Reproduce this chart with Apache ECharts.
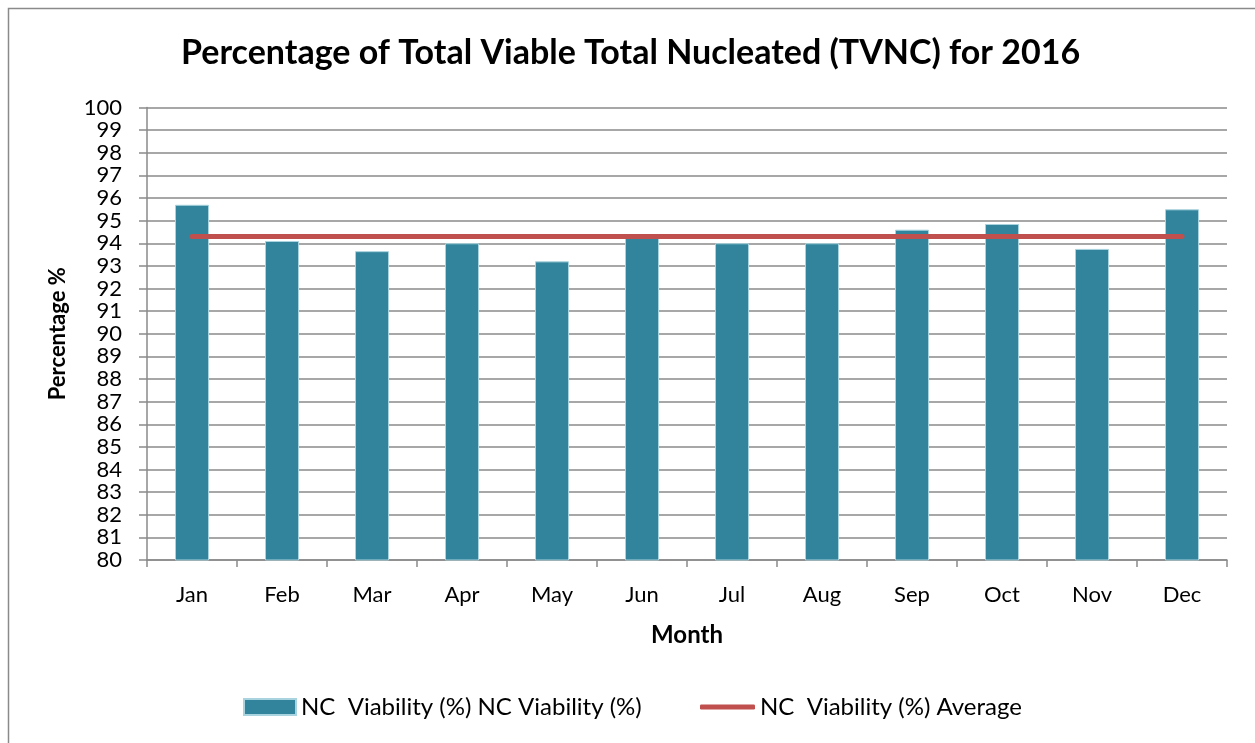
<!DOCTYPE html>
<html>
<head>
<meta charset="utf-8">
<script src="https://cdn.jsdelivr.net/npm/echarts@6/dist/echarts.min.js"></script>
<style>html,body{margin:0;padding:0;background:#fff}#c{width:1255px;height:743px}</style>
</head>
<body>
<div id="c"></div>
<script>
const months = ['Jan','Feb','Mar','Apr','May','Jun','Jul','Aug','Sep','Oct','Nov','Dec'];
const viability = [95.7, 94.1, 93.65, 94.0, 93.2, 94.3, 94.0, 94.0, 94.6, 94.85, 93.75, 95.5];
const average = [94.3, 94.3, 94.3, 94.3, 94.3, 94.3, 94.3, 94.3, 94.3, 94.3, 94.3, 94.3];
const barName = 'NC  Viability (%) NC Viability (%)';
const lineName = 'NC  Viability (%) Average';
const FONT = 'Lato';

const chart = echarts.init(document.getElementById('c'));
chart.setOption({
  animation: false,
  backgroundColor: '#fff',
  textStyle: {fontFamily: FONT, color: '#000'},
  graphic: [{
    type: 'rect', silent: true, z: -1,
    shape: {x: 8.5, y: 8.5, width: 1260, height: 760},
    style: {fill: 'none', stroke: '#8a8a8a', lineWidth: 1.5}
  }],
  title: {
    text: 'Percentage of Total Viable Total Nucleated (TVNC) for 2016',
    left: 176, top: 31,
    textStyle: {fontFamily: FONT, fontSize: 34, fontWeight: 'bold', color: '#000'}
  },
  legend: [{
    data: [barName], left: 243, top: 695, padding: 0,
    itemWidth: 52, itemHeight: 16, icon: 'rect',
    textStyle: {fontFamily: FONT, fontSize: 24, color: '#000'}
  }, {
    data: [lineName], left: 700, top: 695, padding: 0,
    itemWidth: 55, itemHeight: 5, icon: 'roundRect',
    itemStyle: {color: '#C0504D'},
    textStyle: {fontFamily: FONT, fontSize: 24, color: '#000'}
  }],
  grid: {left: 147, top: 107.5, right: 28, bottom: 183, containLabel: false},
  xAxis: {
    type: 'category', data: months, boundaryGap: true,
    name: 'Month', nameLocation: 'middle', nameGap: 63,
    nameTextStyle: {fontFamily: FONT, fontSize: 24, fontWeight: 'bold', color: '#000'},
    axisLine: {lineStyle: {color: '#8a8a8a', width: 1.5}},
    axisTick: {show: true, length: 7, lineStyle: {color: '#8a8a8a', width: 1.5}},
    axisLabel: {fontFamily: FONT, fontSize: 22, color: '#000', margin: 24}
  },
  yAxis: {
    type: 'value', min: 80, max: 100, interval: 1,
    name: 'Percentage %', nameLocation: 'middle', nameGap: 78, nameRotate: 90,
    nameTextStyle: {fontFamily: FONT, fontSize: 22, fontWeight: 'bold', color: '#000'},
    axisLine: {show: true, lineStyle: {color: '#8a8a8a', width: 1.5}},
    axisTick: {show: true, length: 8, lineStyle: {color: '#8a8a8a', width: 1.5}},
    splitLine: {show: true, lineStyle: {color: '#8a8a8a', width: 1.5}},
    axisLabel: {fontFamily: FONT, fontSize: 22, color: '#000', margin: 25}
  },
  series: [{
    name: barName, type: 'bar', data: viability, barWidth: 34,
    itemStyle: {color: '#31849B', borderColor: '#a9d3de', borderWidth: 1}
  }, {
    name: lineName, type: 'line', data: average, symbol: 'none',
    lineStyle: {color: '#C0504D', width: 5, cap: 'round'},
    itemStyle: {color: '#C0504D'}
  }]
});
</script>
</body>
</html>
